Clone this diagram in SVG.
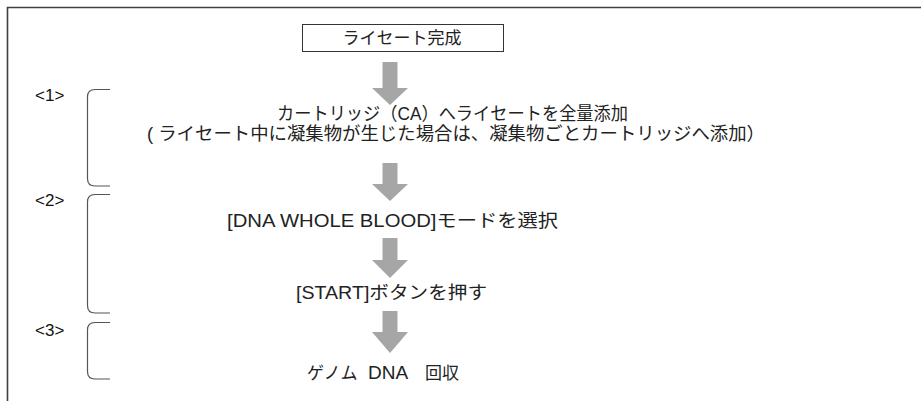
<svg xmlns="http://www.w3.org/2000/svg" width="921" height="401" viewBox="0 0 921 401">
<style>
.t{font-family:"Liberation Sans","Noto Sans CJK JP",sans-serif;font-size:18px;fill:#222;text-anchor:middle}
.lbl{font-family:"Liberation Sans","Noto Sans CJK JP",sans-serif;font-size:17px;fill:#111}
.br{fill:none;stroke:#555;stroke-width:1.2}
.ar{fill:#a6a6a6}
.frame{stroke:#404040;stroke-width:1.6;fill:none}
</style>
<rect width="921" height="401" fill="#fff"/>
<path class="frame" d="M7.5,401 V7.5 H921"/>
<g id="node-start">
<rect x="302.5" y="24.5" width="201" height="27" fill="#fff" stroke="#333" stroke-width="1"/>
<text class="t" x="402" y="44" style="font-size:17px">ライセート完成</text>
</g>
<g id="node-add">
<text class="t" x="452.5" y="120" textLength="351" lengthAdjust="spacingAndGlyphs">カートリッジ（CA）へライセートを全量添加</text>
<text class="t" x="456" y="140" textLength="618" lengthAdjust="spacingAndGlyphs">( ライセート中に凝集物が生じた場合は、凝集物ごとカートリッジへ添加）</text>
</g>
<g id="node-mode">
<text class="t" x="392.5" y="227" textLength="331" lengthAdjust="spacingAndGlyphs">[DNA WHOLE BLOOD]モードを選択</text>
</g>
<g id="node-startbtn">
<text class="t" x="391.5" y="299" textLength="191" lengthAdjust="spacingAndGlyphs">[START]ボタンを押す</text>
</g>
<g id="node-collect">
<text class="t" y="379" style="text-anchor:start;font-size:17px"><tspan x="307">ゲノム</tspan><tspan x="368" style="font-size:19px">DNA</tspan><tspan x="425">回収</tspan></text>
</g>
<g id="step-labels">
<text class="lbl" x="35" y="101">&lt;1&gt;</text>
<path class="br" d="M110,89.5 H95 Q87.5,89.5 87.5,97 V178.5 Q87.5,186 95,186 H110"/>
<text class="lbl" x="35" y="206">&lt;2&gt;</text>
<path class="br" d="M110,194.5 H95 Q87.5,194.5 87.5,202 V305.5 Q87.5,313 95,313 H110"/>
<text class="lbl" x="35" y="336">&lt;3&gt;</text>
<path class="br" d="M110,322.5 H95 Q87.5,322.5 87.5,330 V371.5 Q87.5,379 95,379 H110"/>
</g>
<g id="connectors">
<path class="ar" d="M382.5,62 H397.5 V88 H408 L390,105 L372,88 H382.5 Z"/>
<path class="ar" d="M382.5,163 H397.5 V184 H408 L390,201 L372,184 H382.5 Z"/>
<path class="ar" d="M382.5,238 H397.5 V260 H408 L390,278 L372,260 H382.5 Z"/>
<path class="ar" d="M382.5,311 H397.5 V332 H408 L390,353 L372,332 H382.5 Z"/>
</g>
</svg>
